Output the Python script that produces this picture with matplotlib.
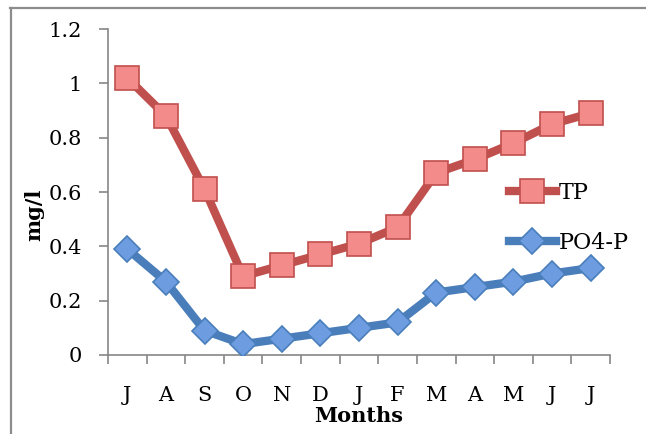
import numpy as np
import matplotlib
matplotlib.use('Agg')
from matplotlib import pyplot as plt
from matplotlib.lines import Line2D

months = ['J', 'A', 'S', 'O', 'N', 'D', 'J', 'F', 'M', 'A', 'M', 'J', 'J']
tp = [1.02, 0.88, 0.61, 0.29, 0.33, 0.37, 0.41, 0.47, 0.67, 0.72, 0.78, 0.85, 0.89]
po4p = [0.39, 0.27, 0.09, 0.04, 0.06, 0.08, 0.10, 0.12, 0.23, 0.25, 0.27, 0.30, 0.32]

plt.rcParams['font.family'] = ['DejaVu Serif']

fig = plt.figure(figsize=(6.46, 4.34), dpi=100)
ax = fig.add_axes([108 / 646., 79 / 434., 502 / 646., 326 / 434.])

# outer chart frame (top and left edges only)
fig.add_artist(Line2D([10 / 646., 1.0], [1 - 7.5 / 434., 1 - 7.5 / 434.],
                      transform=fig.transFigure, color='#8c8c8c', lw=1.6))
fig.add_artist(Line2D([10.5 / 646., 10.5 / 646.], [0, 1 - 7.5 / 434.],
                      transform=fig.transFigure, color='#8c8c8c', lw=1.6))

x = np.arange(len(months))

ax.plot(x, tp, color='#c0504d', lw=6, marker='s', ms=17.5,
        mfc='#f28b8a', mec='#c0504d', mew=1.2, label='TP', zorder=3)
ax.plot(x, po4p, color='#4a7ebb', lw=6, marker='D', ms=13.5,
        mfc='#6d9de0', mec='#4a7ebb', mew=1.2, label='PO4-P', zorder=3)

ax.set_xlim(-0.5, len(months) - 0.5)
ax.set_ylim(0, 1.2)
ax.set_yticks(np.arange(0, 1.21, 0.2))
ax.set_yticklabels(['0', '0.2', '0.4', '0.6', '0.8', '1', '1.2'])
ax.set_xticks(x)
ax.set_xticklabels(months)
ax.set_xticks(np.arange(-0.5, len(months), 1.0), minor=True)

for s in ['top', 'right']:
    ax.spines[s].set_visible(False)
for s in ['left', 'bottom']:
    ax.spines[s].set_color('#868686')
    ax.spines[s].set_linewidth(1.2)

ax.tick_params(axis='y', direction='out', length=6.5, width=1.2,
               color='#868686', pad=12, labelsize=15)
ax.tick_params(axis='x', which='major', length=0, pad=22, labelsize=15)
ax.tick_params(axis='x', which='minor', direction='out', length=6.5,
               width=1.2, color='#868686')

fig.text(359 / 646., 1 - 416 / 434., 'Months', ha='center', va='center',
         fontsize=15, fontweight='bold')
fig.text(34 / 646., 1 - 215 / 434., 'mg/l', ha='center', va='center',
         rotation=90, fontsize=15, fontweight='bold')

leg = ax.legend(loc='center left', bbox_to_anchor=(498 / 646., 1 - 218 / 434.),
                bbox_transform=fig.transFigure, frameon=False, fontsize=16,
                handlelength=2.1, handletextpad=0.15, labelspacing=1.25,
                borderpad=0)

fig.savefig('out.png', dpi=100)
